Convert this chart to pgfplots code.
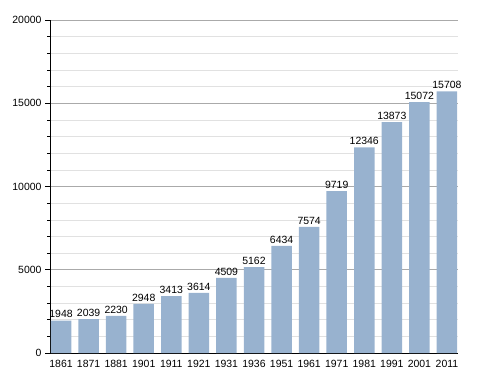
\documentclass[border=0pt]{standalone}
\usepackage{pgfplots}
\pgfplotsset{compat=1.18}
\usetikzlibrary{calc}
\usepackage{fontspec}
\setmainfont{Liberation Sans}
\definecolor{barblue}{RGB}{152,178,207}
\definecolor{majgrid}{RGB}{170,170,170}
\definecolor{mingrid}{RGB}{225,225,225}
\begin{document}
\begin{tikzpicture}
\begin{axis}[
  name=ax,
  scale only axis,
  width=408bp, height=333bp,
  xmin=-0.4, xmax=14.4,
  ymin=0, ymax=20000,
  axis x line*=bottom, axis y line*=left,
  axis line style={black, line width=0.8pt, -},
  xtick=data,
  xticklabels={1861,1871,1881,1901,1911,1921,1931,1936,1951,1961,1971,1981,1991,2001,2011},
  x tick style={draw=none},
  ytick={0,5000,10000,15000,20000},
  minor ytick={1000,2000,3000,4000,6000,7000,8000,9000,11000,12000,13000,14000,16000,17000,18000,19000},
  ymajorgrids, yminorgrids,
  major grid style={majgrid, line width=0.6pt},
  minor grid style={mingrid, line width=0.6pt},
  y tick style={black, line width=0.6pt},
  tick align=outside,
  major tick length=5bp, minor tick length=3bp,
  scaled y ticks=false,
  yticklabel style={/pgf/number format/.cd, fixed, 1000 sep={}},
  /pgf/number format/assume math mode=true,
  tick label style={font=\fontsize{10.5}{12}\selectfont, black},
  xticklabel style={yshift=1bp},
  ybar, bar width=20.5bp,
  nodes near coords,
  every node near coord/.append style={font=\fontsize{10.5}{12}\selectfont, black, inner sep=2.5bp, /pgf/number format/.cd, fixed, 1000 sep={}, assume math mode=true},
  clip=false,
]
\addplot[draw=none, fill=barblue, bar shift=0pt] coordinates {
(0,1948) (1,2039) (2,2230) (3,2948) (4,3413) (5,3614) (6,4509) (7,5162)
(8,6434) (9,7574) (10,9719) (11,12346) (12,13873) (13,15072) (14,15708)};
\end{axis}
\path ($(ax.south west)+(-50bp,-20bp)$) rectangle ($(ax.north east)+(30bp,20bp)$);
\end{tikzpicture}
\end{document}
